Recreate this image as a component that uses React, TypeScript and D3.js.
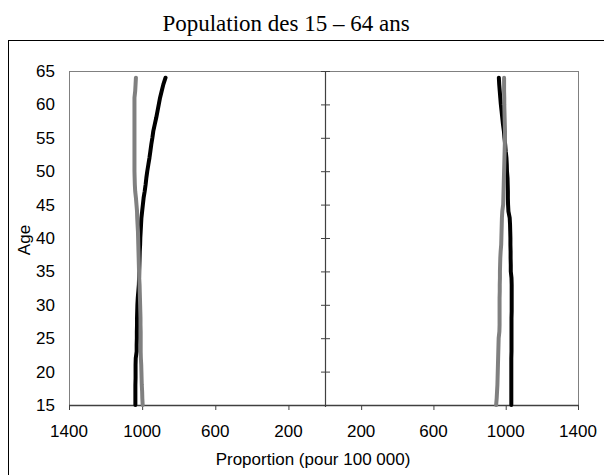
import React from "react";
import * as d3 from "d3";

const ages = d3.range(15, 65);

// Left panel (values plotted leftwards)
const leftBlack = [
  1037, 1037, 1037, 1037, 1036, 1036, 1036, 1035, 1030, 1030,
  1029, 1029, 1028, 1028, 1027, 1026, 1024, 1021, 1018, 1017,
  1016, 1015, 1014, 1013, 1011, 1010, 1008, 1006, 1004, 1000,
  996, 992, 986, 981, 977, 972, 966, 960, 955, 950,
  944, 939, 931, 923, 916, 909, 902, 893, 884, 872,
];
const leftGray = [
  997, 999, 1000, 1002, 1003, 1004, 1005, 1007, 1008, 1008,
  1008, 1008, 1009, 1009, 1010, 1011, 1012, 1013, 1014, 1016,
  1017, 1018, 1019, 1020, 1021, 1022, 1023, 1025, 1027, 1028,
  1031, 1034, 1038, 1040, 1041, 1042, 1042, 1042, 1042, 1042,
  1042, 1042, 1042, 1042, 1042, 1042, 1042, 1038, 1036, 1034,
];
// Right panel (values plotted rightwards)
const rightBlack = [
  1031, 1031, 1031, 1031, 1031, 1031, 1031, 1031, 1032, 1032,
  1032, 1032, 1032, 1032, 1033, 1033, 1033, 1033, 1033, 1032,
  1028, 1028, 1027, 1027, 1026, 1026, 1025, 1024, 1022, 1015,
  1013, 1012, 1012, 1011, 1010, 1007, 1006, 1004, 1000, 997,
  993, 990, 985, 981, 977, 973, 970, 967, 964, 962,
];
const rightGray = [
  947, 950, 952, 954, 955, 956, 957, 958, 959, 960,
  961, 965, 966, 966, 966, 966, 966, 967, 967, 968,
  968, 969, 970, 972, 975, 976, 977, 978, 979, 981,
  986, 987, 988, 989, 990, 991, 992, 993, 994, 995,
  996, 996, 995, 994, 993, 992, 992, 991, 991, 991,
];

const xTicks = [200, 600, 1000, 1400];
const yTicks = [15, 20, 25, 30, 35, 40, 45, 50, 55, 60, 65];

const title = "Population des 15 – 64 ans";
const xTitle = "Proportion (pour 100 000)";
const yTitle = "Age";

export default function App() {
  const W = 604, H = 475;
  const L = 69, R = 578, T = 71, B = 405, C = 325;
  const xLeft = d3.scaleLinear().domain([0, 1400]).range([C, L]);
  const xRight = d3.scaleLinear().domain([0, 1400]).range([C, R]);
  const y = d3.scaleLinear().domain([15, 65]).range([B, T]);

  const lineL = d3.line<number>().x((v) => xLeft(v)).y((_, i) => y(ages[i]));
  const lineR = d3.line<number>().x((v) => xRight(v)).y((_, i) => y(ages[i]));

  const font = "'Liberation Sans', Arial, sans-serif";

  return (
    <svg width={W} height={H} style={{ position: "absolute", left: 0, top: 0 }}>
      <rect x={0} y={0} width={W} height={H} fill="#fff" />
      <rect x={8.5} y={40.5} width={800} height={600} fill="none" stroke="#000" strokeWidth={1} />
      <text x={286} y={31} textAnchor="middle" fontFamily="'Liberation Serif', 'Times New Roman', serif" fontSize={23}>
        {title}
      </text>
      {/* plot area */}
      <rect x={L + 0.5} y={T + 0.5} width={R - L} height={B - T} fill="none" stroke="#808080" strokeWidth={1} />
      {/* bottom axis */}
      <line x1={L} x2={R + 1} y1={B + 0.5} y2={B + 0.5} stroke="#404040" strokeWidth={1.5} />
      {xTicks.map((t) => (
        <g key={"l" + t}>
          <line x1={xLeft(t) + 0.5} x2={xLeft(t) + 0.5} y1={B} y2={B + 5} stroke="#404040" />
          <text x={xLeft(t)} y={437} textAnchor="middle" fontFamily={font} fontSize={17}>{t}</text>
        </g>
      ))}
      {xTicks.map((t) => (
        <g key={"r" + t}>
          <line x1={xRight(t) + 0.5} x2={xRight(t) + 0.5} y1={B} y2={B + 5} stroke="#404040" />
          <text x={xRight(t)} y={437} textAnchor="middle" fontFamily={font} fontSize={17}>{t}</text>
        </g>
      ))}
      {/* center axis */}
      <line x1={C + 0.5} x2={C + 0.5} y1={T} y2={B + 2} stroke="#404040" strokeWidth={1.2} />
      {yTicks.slice(1).map((t) => (
        <line key={"ct" + t} x1={C - 4} x2={C + 5} y1={y(t) + 0.5} y2={y(t) + 0.5} stroke="#404040" />
      ))}
      {yTicks.map((t) => (
        <text key={"yl" + t} x={55} y={y(t) + 6} textAnchor="end" fontFamily={font} fontSize={17}>{t}</text>
      ))}
      <text transform={`translate(30,${240}) rotate(-90)`} textAnchor="middle" fontFamily={font} fontSize={17}>{yTitle}</text>
      <text x={313} y={465} textAnchor="middle" fontFamily={font} fontSize={17}>{xTitle}</text>
      {/* data */}
      <path d={lineL(leftBlack) || ""} fill="none" stroke="#000" strokeWidth={4} strokeLinejoin="round" strokeLinecap="round" />
      <path d={lineL(leftGray) || ""} fill="none" stroke="#808080" strokeWidth={4} strokeLinejoin="round" strokeLinecap="round" />
      <path d={lineR(rightBlack) || ""} fill="none" stroke="#000" strokeWidth={4} strokeLinejoin="round" strokeLinecap="round" />
      <path d={lineR(rightGray) || ""} fill="none" stroke="#808080" strokeWidth={4} strokeLinejoin="round" strokeLinecap="round" />
    </svg>
  );
}
